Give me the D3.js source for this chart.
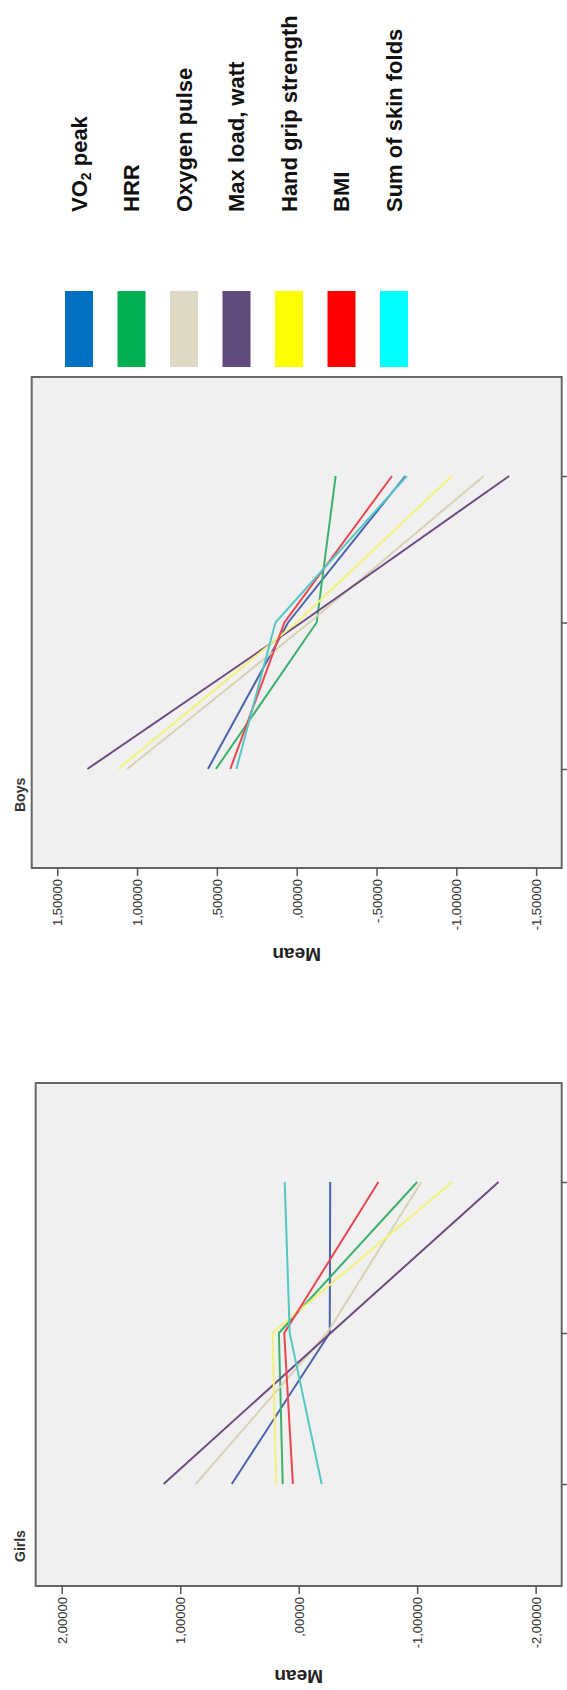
<!DOCTYPE html>
<html>
<head>
<meta charset="utf-8">
<title>Mean by group, Boys and Girls</title>
<script src="https://d3js.org/d3.v7.min.js"></script>
<style>
  body { margin: 0; background: #fff; }
  text { font-family: "Liberation Sans", Arial, sans-serif; }
</style>
</head>
<body>
<div id="chart"></div>
<script>
// categories along the (rotated) x axis, bottom to top; no labels are shown
var categories = ["1", "2", "3"];

var seriesNames = ["VO2 peak", "HRR", "Oxygen pulse", "Max load, watt",
                   "Hand grip strength", "BMI", "Sum of skin folds"];
var swatchColors = ["#0070c0", "#00b050", "#ddd9c4", "#604a7b", "#ffff00", "#ff0000", "#00ffff"];
var lineColors = ["#4b63ad", "#3bb26a", "#d8d1b4", "#6f4a82", "#f2f27a", "#e9464f", "#55c6c6"];

// Boys means, one value per category
var boysVO2peak   = [0.556, 0.054, -0.680];
var boysHRR       = [0.506, -0.125, -0.244];
var boysO2pulse   = [1.062, -0.080, -1.172];
var boysMaxLoad   = [1.311, -0.030, -1.331];
var boysHandGrip  = [1.119, 0.000, -0.972];
var boysBMI       = [0.416, 0.077, -0.597];
var boysSkinFolds = [0.378, 0.133, -0.690];

// Girls means
var girlsVO2peak   = [0.565, -0.262, -0.266];
var girlsHRR       = [0.135, 0.167, -1.000];
var girlsO2pulse   = [0.869, -0.240, -1.034];
var girlsMaxLoad   = [1.140, -0.270, -1.687];
var girlsHandGrip  = [0.190, 0.221, -1.295];
var girlsBMI       = [0.049, 0.122, -0.673];
var girlsSkinFolds = [-0.194, 0.076, 0.118];

var boysTicks = [1.5, 1, 0.5, 0, -0.5, -1, -1.5];
var girlsTicks = [2, 1, 0, -1, -2];

var svg = d3.select("#chart").append("svg")
    .attr("width", 567)
    .attr("height", 1690);

// SPSS style numbers: 5 decimals, comma, no leading zero, plain hyphen
function spssFormat(v) {
  return d3.format(".5f")(v)
    .replace("\u2212", "-")
    .replace(/^(-?)0\./, "$1.")
    .replace(".", ",");
}

// legend (swatches + rotated labels)
var legend = svg.append("g");
var lx = d3.scalePoint().domain(seriesNames).range([79, 394]);

legend.selectAll("rect")
    .data(seriesNames)
  .enter().append("rect")
    .attr("x", function(d) { return lx(d) - 14; })
    .attr("y", 291)
    .attr("width", 28)
    .attr("height", 76)
    .attr("fill", function(d, i) { return swatchColors[i]; });

legend.selectAll("text")
    .data(seriesNames)
  .enter().append("text")
    .attr("transform", function(d) { return "translate(" + lx(d) + ",212) rotate(-90)"; })
    .attr("dy", "0.35em")
    .style("font-size", "22px")
    .style("font-weight", "bold")
    .attr("fill", "#111")
    .each(function(d) {
      var t = d3.select(this);
      if (d.indexOf("VO2") === 0) {
        t.append("tspan").text("VO");
        t.append("tspan").text("2").style("font-size", "14px").attr("dy", "4");
        t.append("tspan").text(" peak").attr("dy", "-4");
      } else {
        t.text(d);
      }
    });

function drawPanel(cfg) {
  var x = d3.scaleLinear().domain(cfg.domain).range([cfg.left, cfg.right]);
  var y = d3.scalePoint().domain(categories).range(cfg.catRange);

  var g = svg.append("g");

  g.append("rect")
    .attr("x", cfg.left)
    .attr("y", cfg.top)
    .attr("width", cfg.right - cfg.left)
    .attr("height", cfg.bottom - cfg.top)
    .attr("fill", "#f0f0f0")
    .attr("stroke", "#666")
    .attr("stroke-width", 2);

  var line = d3.line()
    .x(function(d) { return x(d.v); })
    .y(function(d) { return y(d.c); });

  cfg.series.forEach(function(vals, i) {
    var pts = vals.map(function(v, k) { return {c: categories[k], v: v}; });
    g.append("path")
      .datum(pts)
      .attr("d", line)
      .attr("fill", "none")
      .attr("stroke", lineColors[i])
      .attr("stroke-width", 2);
  });

  // value axis along the bottom edge
  var ax = g.append("g")
    .attr("transform", "translate(0," + cfg.bottom + ")")
    .call(d3.axisBottom(x).tickValues(cfg.ticks).tickFormat(spssFormat).tickSize(8));
  ax.select(".domain").remove();
  ax.selectAll("line").attr("stroke", "#555").attr("stroke-width", 1.5);
  ax.selectAll("text")
    .attr("transform", "rotate(-90)")
    .attr("x", -11)
    .attr("y", 0)
    .attr("dy", "0.35em")
    .style("text-anchor", "end")
    .style("font-size", "13px")
    .attr("fill", "#333");

  // category ticks on the right edge
  var ay = g.append("g")
    .attr("transform", "translate(" + cfg.right + ",0)")
    .call(d3.axisRight(y).tickSize(6).tickFormat(""));
  ay.select(".domain").remove();
  ay.selectAll("line").attr("stroke", "#555").attr("stroke-width", 1.5);

  g.append("text")
    .attr("transform", "translate(" + x(0) + "," + cfg.titleY + ") rotate(180)")
    .attr("dy", "0.35em")
    .style("text-anchor", "middle")
    .style("font-size", "19px")
    .style("font-weight", "bold")
    .attr("fill", "#222")
    .text("Mean");

  g.append("text")
    .attr("transform", "translate(20," + cfg.labelY + ") rotate(-90)")
    .attr("dy", "0.35em")
    .style("font-size", "14px")
    .style("font-weight", "bold")
    .attr("fill", "#333")
    .text(cfg.label);
}

drawPanel({
  label: "Boys",
  left: 31.7, right: 561.7, top: 377, bottom: 868,
  domain: [1.66, -1.66],
  catRange: [769, 476],
  ticks: boysTicks,
  titleY: 955,
  labelY: 812,
  series: [boysVO2peak, boysHRR, boysO2pulse, boysMaxLoad, boysHandGrip, boysBMI, boysSkinFolds]
});

drawPanel({
  label: "Girls",
  left: 35.7, right: 561.7, top: 1083, bottom: 1586,
  domain: [2.22, -2.22],
  catRange: [1484, 1182],
  ticks: girlsTicks,
  titleY: 1677,
  labelY: 1562,
  series: [girlsVO2peak, girlsHRR, girlsO2pulse, girlsMaxLoad, girlsHandGrip, girlsBMI, girlsSkinFolds]
});
</script>
</body>
</html>
